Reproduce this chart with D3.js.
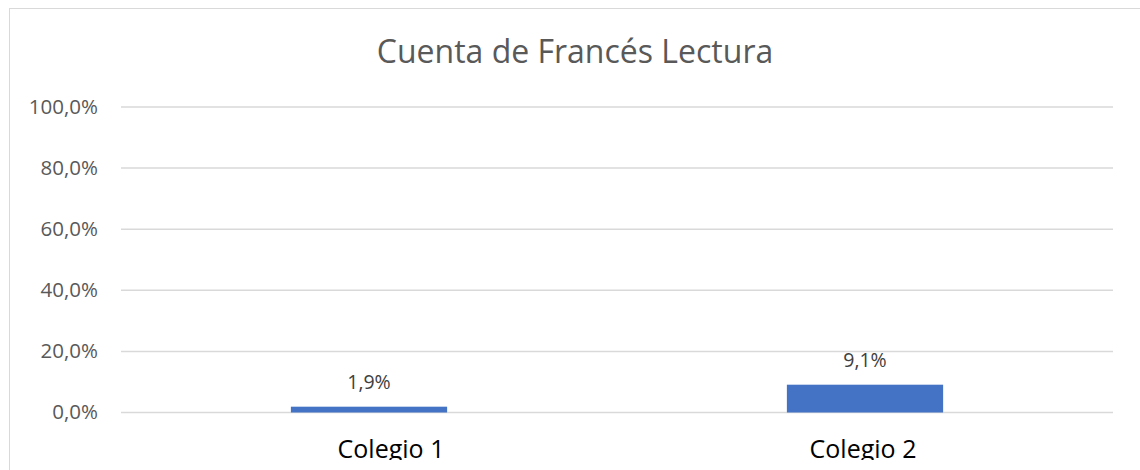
<!DOCTYPE html>
<html>
<head>
<meta charset="utf-8">
<script src="https://cdn.jsdelivr.net/npm/d3@7"></script>
<style>
  body { margin: 0; background: #fff; }
  text { font-family: "Open Sans", sans-serif; }
</style>
</head>
<body>
<script>
var categories = ["Colegio 1", "Colegio 2"];
var values = [0.019, 0.091];
var valueLabels = ["1,9%", "9,1%"];
var tickValues = [0, 0.2, 0.4, 0.6, 0.8, 1.0];
var tickLabels = ["0,0%", "20,0%", "40,0%", "60,0%", "80,0%", "100,0%"];
var title = "Cuenta de Francés Lectura";

var width = 1140, height = 470;
var svg = d3.select("body").append("svg")
            .attr("width", width)
            .attr("height", height);

svg.append("defs").append("clipPath")
   .attr("id", "cut")
   .append("rect")
   .attr("x", 0).attr("y", 0)
   .attr("width", width).attr("height", 460);

// chart border (runs off the right / bottom edge)
svg.append("rect")
   .attr("x", 9.5).attr("y", 8.5)
   .attr("width", 1200).attr("height", 600)
   .attr("fill", "#fff")
   .attr("stroke", "#d9d9d9");

var x = d3.scaleBand()
          .domain(categories)
          .range([121, 1113])
          .paddingInner(0.685)
          .paddingOuter(0.3425);

var y = d3.scaleLinear()
          .domain([0, 1])
          .range([412.5, 107]);

// gridlines
svg.append("g")
   .selectAll("line")
   .data(tickValues)
   .enter()
   .append("line")
   .attr("x1", 121).attr("x2", 1113)
   .attr("y1", function(d){ return y(d); })
   .attr("y2", function(d){ return y(d); })
   .attr("stroke", "#d9d9d9")
   .attr("stroke-width", 1.5);

// y axis labels
var yAxis = d3.axisLeft(y)
    .tickValues(tickValues)
    .tickFormat(function(d, i){ return tickLabels[i]; })
    .tickSize(0)
    .tickPadding(0);
var ga = svg.append("g")
   .attr("transform", "translate(98,0)")
   .call(yAxis);
ga.select(".domain").remove();
ga.selectAll("text")
  .attr("fill", "#595959")
  .attr("font-size", "20.5px")
  .attr("font-family", "Open Sans")
  .attr("dy", "0.3em");

// bars
svg.append("g")
   .selectAll("rect")
   .data(values)
   .enter()
   .append("rect")
   .attr("x", function(d, i){ return x(categories[i]); })
   .attr("y", function(d){ return y(d); })
   .attr("width", x.bandwidth())
   .attr("height", function(d){ return y(0) - y(d); })
   .attr("fill", "#4472c4");

// data labels
svg.append("g")
   .selectAll("text")
   .data(values)
   .enter()
   .append("text")
   .attr("x", function(d, i){ return x(categories[i]) + x.bandwidth() / 2; })
   .attr("y", function(d){ return y(d) - 18; })
   .attr("text-anchor", "middle")
   .attr("fill", "#404040")
   .attr("font-size", "19.5px")
   .text(function(d, i){ return valueLabels[i]; });

// category labels
var xAxis = d3.axisBottom(x).tickSize(0).tickPadding(0);
var gx = svg.append("g")
   .attr("clip-path", "url(#cut)")
   .append("g")
   .attr("transform", "translate(0,440)")
   .call(xAxis);
gx.select(".domain").remove();
gx.selectAll("text")
  .attr("fill", "#000")
  .attr("font-size", "25px")
  .attr("font-family", "Open Sans")
  .attr("dx", function(d, i){ return i == 0 ? 22 : -2; });

// title
svg.append("text")
   .attr("x", 575)
   .attr("y", 63)
   .attr("text-anchor", "middle")
   .attr("fill", "#595959")
   .attr("font-size", "32px")
   .text(title);
</script>
</body>
</html>
